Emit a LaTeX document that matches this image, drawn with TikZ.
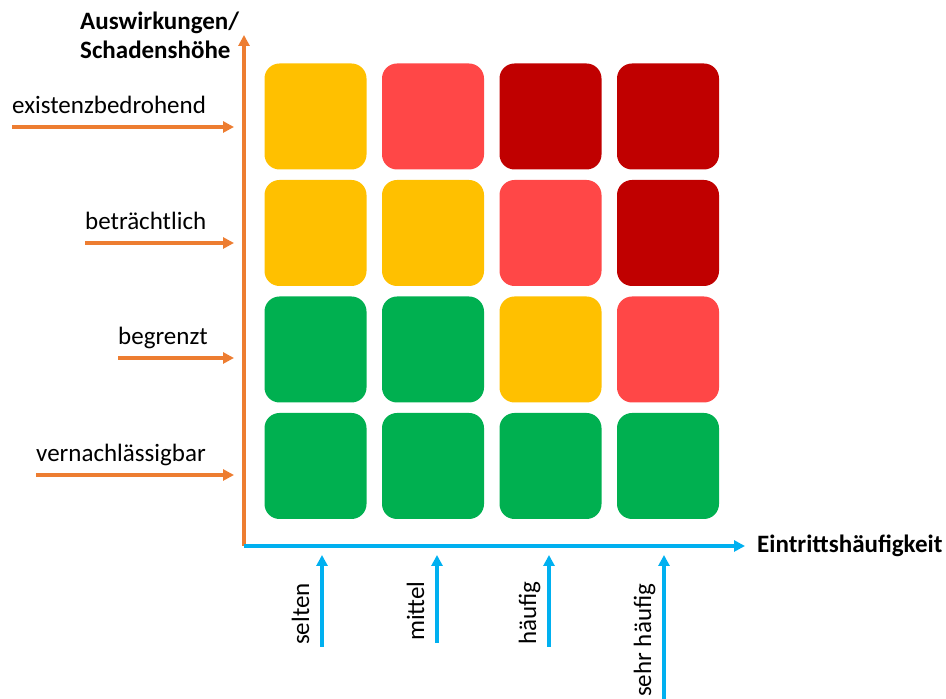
\documentclass[tikz,border=0pt]{standalone}
\usepackage{fontspec}
\setmainfont{Carlito}
\usetikzlibrary{arrows.meta, positioning}
\definecolor{CYellow}{HTML}{FFC000}
\definecolor{CRed}{HTML}{FF4747}
\definecolor{CDarkRed}{HTML}{C00000}
\definecolor{CGreen}{HTML}{00B050}
\definecolor{COrange}{HTML}{ED7D31}
\definecolor{CBlue}{HTML}{00B0F0}

\begin{document}
\begin{tikzpicture}[x=1pt, y=1pt,
    cell/.style={rounded corners=15pt, minimum width=102pt, minimum height=106pt, inner sep=0pt},
    oarrow/.style={COrange, line width=3.5pt, -{Triangle[length=11pt, width=11pt]}},
    barrow/.style={CBlue, line width=3.5pt, -{Triangle[length=11pt, width=11pt]}},
    lbl/.style={font=\fontsize{25}{29}\selectfont, inner sep=0pt},
    axislbl/.style={font=\fontsize{25}{29}\selectfont\bfseries, inner sep=0pt}]
    \useasboundingbox (0,0) rectangle (946,699);

    % matrix, top row first
    \foreach \r/\cols in {1/{CYellow,CRed,CDarkRed,CDarkRed}, 2/{CYellow,CYellow,CRed,CDarkRed},
                          3/{CGreen,CGreen,CYellow,CRed}, 4/{CGreen,CGreen,CGreen,CGreen}}
        \foreach \c [count=\k] in \cols
            \node[cell, fill=\c] (sq-\r-\k) at ({315.5+117.5*(\k-1)}, {582.5-116.5*(\r-1)}) {};

    % axes
    \coordinate (origin) at (244,153);
    \coordinate (ytip) at (244,664);
    \coordinate (xtip) at (745,153);
    \draw[oarrow] (origin) -- (ytip);
    \draw[barrow] (origin) -- (xtip);
    \node[axislbl, align=left, anchor=north west] (ylabel) at (80,687) {Auswirkungen/\\Schadenshöhe};
    \node[axislbl, anchor=base west] (xlabel) at (757,146) {Eintrittshäufigkeit};

    % impact levels
    \foreach \name/\txt/\x/\y in {exist/existenzbedrohend/12/572, betr/beträchtlich/85/456,
                                  begr/begrenzt/118/341, vern/vernachlässigbar/36/224} {
        \coordinate (\name-s) at (\x,\y);
        \coordinate (\name-e) at (234,\y);
        \node[lbl, anchor=base west] (\name) at (\x,\y+13) {\txt};
        \draw[oarrow] (\name-s) -- (\name-e);
    }

    % frequency levels
    \foreach \name/\txt/\x/\y in {selt/selten/322/52, mitt/mittel/437/56,
                                  hauf/häufig/549/52, sehr/sehr häufig/664/0} {
        \coordinate (\name-s) at (\x,\y);
        \coordinate (\name-e) at (\x,144);
        \node[lbl, rotate=90, anchor=base west] (\name) at (\x-13,\y+2) {\txt};
        \draw[barrow] (\name-s) -- (\name-e);
    }
\end{tikzpicture}
\end{document}
